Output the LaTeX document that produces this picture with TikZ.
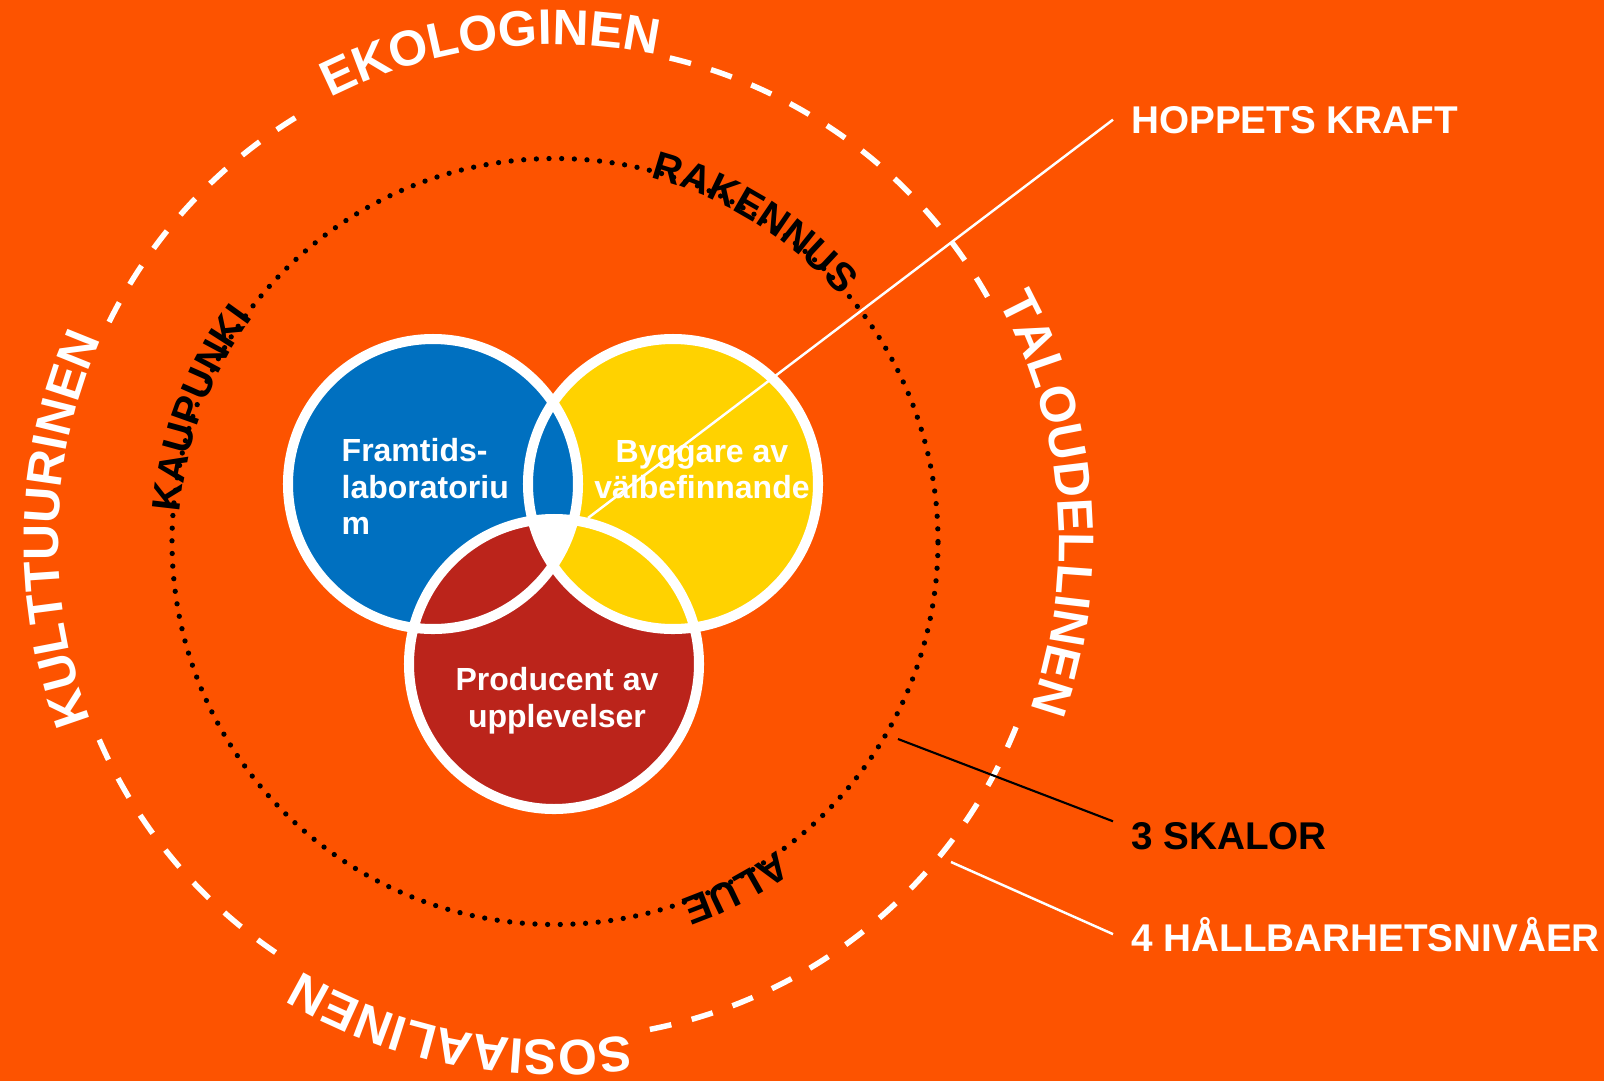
\documentclass[tikz,border=0pt]{standalone}
\usepackage{fontspec}
\setmainfont{Liberation Sans}
\usetikzlibrary{decorations.text}
\definecolor{bgorange}{RGB}{253,83,0}
\definecolor{venblue}{RGB}{0,112,192}
\definecolor{venyellow}{RGB}{255,210,0}
\definecolor{venred}{RGB}{187,36,27}
\newcommand\outerfont{\fontsize{14.2}{16}\selectfont\bfseries}
\newcommand\innerfont{\fontsize{11.4}{13}\selectfont\bfseries}
\newcommand\vennfont{\fontsize{9.1}{10.3}\selectfont\bfseries}
\newcommand\tagfont{\fontsize{11}{13}\selectfont\bfseries}
\begin{document}
\begin{tikzpicture}[x=0.01cm, y=0.01cm,
    outerlabel/.style={decorate, decoration={text along path, text align=center, text color=white, text={|\outerfont|#1}}},
    innerlabel/.style={decorate, decoration={text along path, text align=center, text color=black, text={|\innerfont|#1}}},
    ring/.style={white, line width=1.56pt, dash pattern=on 6.26pt off 5.97pt},
    dots/.style={black, line width=1.5pt, line cap=round, dash pattern=on 0pt off 3.6pt},
    vennedge/.style={white, line width=2.85pt},
    venntext/.style={text=white, font=\vennfont, inner sep=0pt},
    tag/.style={font=\tagfont, anchor=base west, inner xsep=5pt, inner ysep=0pt}]
    \useasboundingbox (-555,-539.5) rectangle (1049,541.5);
    \fill[bgorange] (-555,-539.5) rectangle (1049,541.5);
    \foreach \a/\b in {29.5/76.65, 121.5/153.8, 203.5/235.8, 281/338.1}
        \draw[ring] (\a:497) arc[start angle=\a, end angle=\b, radius=497];
    \path[outerlabel=EKOLOGINEN] (127.5:497) arc[start angle=127.5, end angle=67.5, radius=497];
    \path[outerlabel=KULTTUURINEN] (208.5:497) arc[start angle=208.5, end angle=148.5, radius=497];
    \path[outerlabel=TALOUDELLINEN] (34.5:504) arc[start angle=34.5, end angle=-25.5, radius=504];
    \path[outerlabel=SOSIAALINEN] (289:499) arc[start angle=289, end angle=229, radius=499];
    \draw[dots] (0,0) circle[radius=383];
    \path[innerlabel=RAKENNUS] (88:376) arc[start angle=88, end angle=28, radius=376];
    \path[innerlabel=KAUPUNKI] (189.5:376) arc[start angle=189.5, end angle=129.5, radius=376];
    \path[innerlabel=ALUE] (-32.5:380) arc[start angle=-32.5, end angle=-92.5, radius=380];
    \coordinate (labC) at (-122,57.5);
    \coordinate (wellC) at (118,57.5);
    \coordinate (expC) at (-1,-122.5);
    \fill[venyellow] (wellC) circle[radius=145];
    \fill[venblue] (labC) circle[radius=145];
    \fill[venred] (expC) circle[radius=145];
    \begin{scope}
        \clip (expC) circle[radius=145];
        \fill[venyellow] (wellC) circle[radius=145];
        \clip (labC) circle[radius=145];
        \fill[white] (wellC) circle[radius=145];
    \end{scope}
    \draw[vennedge] (labC) circle[radius=145] (wellC) circle[radius=145] (expC) circle[radius=145];
    \node[venntext, align=left, anchor=north west] (lab) at (-214,103.5) {Framtids-\\laboratoriu\\m};
    \node[venntext, align=center, anchor=north] (well) at (147,101.5) {Byggare av\\välbefinnande};
    \node[venntext, align=center, anchor=north] (exp) at (2,-125.5) {Producent av\\upplevelser};
    \node[tag, text=white] (hope) at (558,408.5) {HOPPETS KRAFT};
    \node[tag] (scales) at (558,-307.5) {3 SKALOR};
    \node[tag, text=white] (levels) at (558,-409.5) {4 HÅLLBARHETSNIVÅER};
    \coordinate (hopefoot) at (33,23.5);
    \coordinate (scalefoot) at (343,-197.5);
    \coordinate (levelfoot) at (396,-320.5);
    \draw[white, line width=0.7pt] (hopefoot) -- (hope.west);
    \draw[black, line width=0.6pt] (scalefoot) -- (scales.north west);
    \draw[white, line width=0.7pt] (levelfoot) -- (levels.west);
\end{tikzpicture}
\end{document}
